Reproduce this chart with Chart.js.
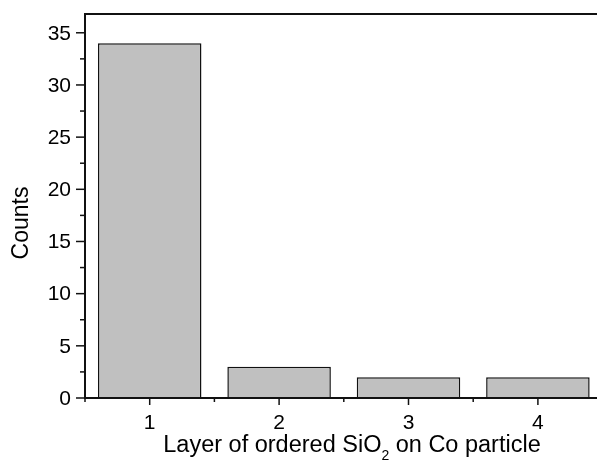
<!DOCTYPE html>
<html>
<head>
<meta charset="utf-8">
<script src="https://cdn.jsdelivr.net/npm/chart.js@4/dist/chart.umd.min.js"></script>
<style>
  html, body { margin: 0; padding: 0; overflow: hidden; background: #fff; width: 597px; height: 461px; }
  #wrap { width: 620px; height: 461px; }
</style>
</head>
<body>
<div id="wrap"><canvas id="c" width="620" height="461"></canvas></div>
<script>
// Histogram data
const categories = ['1', '2', '3', '4'];
const counts = [34, 3, 2, 2];
const yMajorTicks = [0, 5, 10, 15, 20, 25, 30, 35];
const yMinorTicks = [2.5, 7.5, 12.5, 17.5, 22.5, 27.5, 32.5];
const yMax = 36.8;
const yTitle = 'Counts';
const xTitleParts = ['Layer of ordered SiO', '2', ' on Co particle'];

const FONT = '"Liberation Sans", Arial, sans-serif';
const INK = '#111';

// Frame, ticks and axis titles drawn on top of the bars
const axesPlugin = {
  id: 'originAxes',
  afterDraw(chart) {
    const { ctx, chartArea: a, scales } = chart;
    const xs = scales.x, ys = scales.y;
    ctx.save();
    ctx.strokeStyle = INK;
    ctx.fillStyle = '#000';
    ctx.lineWidth = 2;
    ctx.strokeRect(a.left, a.top, a.right - a.left, a.bottom - a.top);

    // y ticks and labels
    ctx.lineWidth = 1.5;
    ctx.font = '21px ' + FONT;
    ctx.textAlign = 'right';
    ctx.textBaseline = 'middle';
    yMajorTicks.forEach(v => {
      const y = ys.getPixelForValue(v);
      ctx.beginPath(); ctx.moveTo(a.left - 9, y); ctx.lineTo(a.left, y); ctx.stroke();
      ctx.fillText(String(v), a.left - 14, y + 1);
    });
    yMinorTicks.forEach(v => {
      const y = ys.getPixelForValue(v);
      ctx.beginPath(); ctx.moveTo(a.left - 5, y); ctx.lineTo(a.left, y); ctx.stroke();
    });

    // x ticks: major at category centres, minor at the boundaries
    ctx.textAlign = 'center';
    ctx.textBaseline = 'alphabetic';
    const centres = categories.map((c, i) => xs.getPixelForValue(i));
    const step = centres[1] - centres[0];
    centres.forEach((x, i) => {
      ctx.beginPath(); ctx.moveTo(x, a.bottom); ctx.lineTo(x, a.bottom + 7); ctx.stroke();
      ctx.fillText(categories[i], x, a.bottom + 31);
      const b = x - step / 2;
      ctx.beginPath(); ctx.moveTo(b, a.bottom); ctx.lineTo(b, a.bottom + 4); ctx.stroke();
    });

    // x title with subscript
    const mainFont = '23.5px ' + FONT, subFont = '14px ' + FONT;
    ctx.font = mainFont; const w0 = ctx.measureText(xTitleParts[0]).width;
    ctx.font = subFont;  const w1 = ctx.measureText(xTitleParts[1]).width;
    ctx.font = mainFont; const w2 = ctx.measureText(xTitleParts[2]).width;
    let x = 352 - (w0 + w1 + w2) / 2;
    const base = a.bottom + 54;
    ctx.textAlign = 'left';
    ctx.font = mainFont; ctx.fillText(xTitleParts[0], x, base); x += w0;
    ctx.font = subFont;  ctx.fillText(xTitleParts[1], x, base + 8); x += w1;
    ctx.font = mainFont; ctx.fillText(xTitleParts[2], x, base);

    // y title
    ctx.translate(28, 223);
    ctx.rotate(-Math.PI / 2);
    ctx.textAlign = 'center';
    ctx.font = '23px ' + FONT;
    ctx.fillText(yTitle, 0, 0);
    ctx.restore();
  }
};

new Chart(document.getElementById('c'), {
  type: 'bar',
  data: {
    labels: categories,
    datasets: [{
      data: counts,
      backgroundColor: '#c0c0c0',
      borderColor: INK,
      borderWidth: 1.5,
      barPercentage: 0.8,
      categoryPercentage: 1.0
    }]
  },
  options: {
    responsive: false,
    animation: false,
    layout: { padding: { left: 85, top: 14, right: 17.4, bottom: 63 } },
    plugins: { legend: { display: false }, tooltip: { enabled: false } },
    scales: {
      x: { type: 'category', offset: true, display: false },
      y: { min: 0, max: yMax, display: false }
    }
  },
  plugins: [axesPlugin]
});
</script>
</body>
</html>
